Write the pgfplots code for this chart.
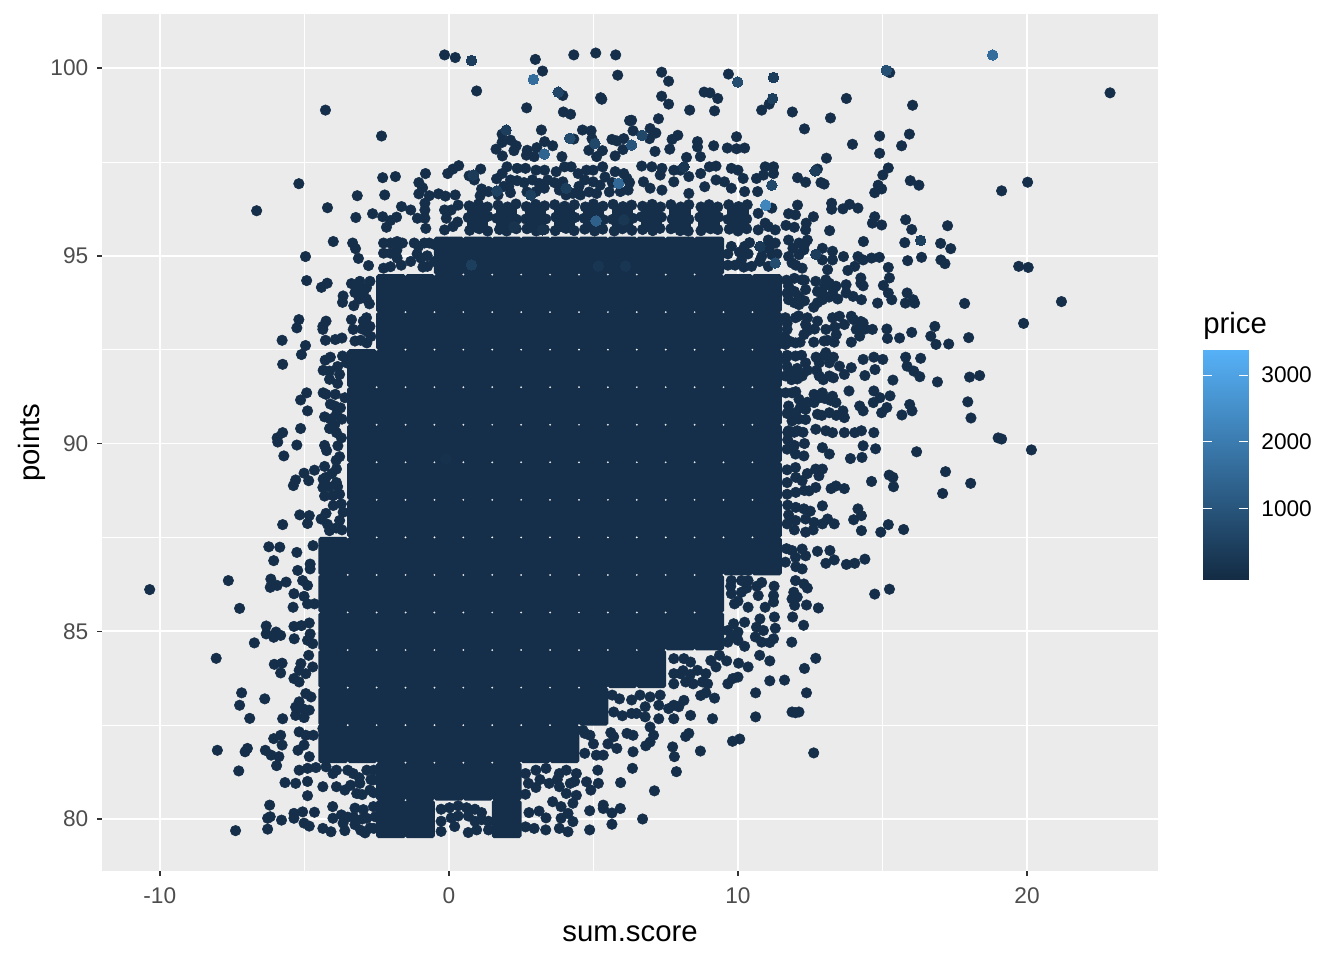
\documentclass[border=0pt]{standalone}
\usepackage{fontspec}
\setmainfont{Liberation Sans}
\usepackage{pgfplots}
\pgfplotsset{compat=1.18}
\definecolor{pt}{RGB}{21,46,73}
\definecolor{panel}{RGB}{235,235,235}
\definecolor{tk}{RGB}{51,51,51}
\definecolor{tl}{RGB}{77,77,77}
\pgfplotsset{colormap={gg}{rgb255=(19,43,67) rgb255=(86,177,247)}}
\pgfdeclareplotmark{cell}{%
 \pgfpathmoveto{\pgfqpoint{-9.6pt}{-14.4pt}}\pgfpathlineto{\pgfqpoint{9.6pt}{-14.4pt}}%
 \pgfpathlineto{\pgfqpoint{11.2pt}{-12.8pt}}\pgfpathlineto{\pgfqpoint{11.2pt}{12.8pt}}%
 \pgfpathlineto{\pgfqpoint{9.6pt}{14.4pt}}\pgfpathlineto{\pgfqpoint{-9.6pt}{14.4pt}}%
 \pgfpathlineto{\pgfqpoint{-11.2pt}{12.8pt}}\pgfpathlineto{\pgfqpoint{-11.2pt}{-12.8pt}}%
 \pgfpathclose\pgfusepathqfill}
\pgfdeclareplotmark{semicell}{%
 \pgfpathmoveto{\pgfqpoint{-8pt}{-10pt}}\pgfpathlineto{\pgfqpoint{8pt}{-10pt}}%
 \pgfpathlineto{\pgfqpoint{8pt}{10pt}}\pgfpathlineto{\pgfqpoint{-8pt}{10pt}}%
 \pgfpathclose\pgfusepathqfill}
\begin{document}
\begin{tikzpicture}
\path[use as bounding box] (0,0) rectangle (1008pt,720pt);
\begin{axis}[
 at={(76.5pt,66.75pt)},anchor=south west,scale only axis,width=792pt,height=642.75pt,
 xmin=-12.0,xmax=24.53,ymin=78.615,ymax=101.44,
 axis background/.style={fill=panel},
 axis line style={draw=none},
 xtick={-10,0,10,20},xticklabels={-10,0,10,20},
 ytick={80,85,90,95,100},yticklabels={80,85,90,95,100},
 minor xtick={-5,5,15},minor ytick={82.5,87.5,92.5,97.5},
 grid=both,
 major grid style={white,line width=1.3pt},
 minor grid style={white,line width=0.6pt},
 tick pos=left,tick align=outside,major tick length=3.75pt,minor tick length=0pt,
 major tick style={tk,line width=1.1pt},
 tick label style={font=\fontsize{17}{20}\selectfont,text=tl},
 xticklabel style={yshift=-5.5pt},
 yticklabel style={xshift=-3pt},
 xlabel={sum.score},ylabel={points},
 label style={font=\fontsize{22}{26}\selectfont,text=black},
 xlabel style={at={(axis description cs:0.5,-0.073)},anchor=center},
 ylabel style={at={(axis description cs:-0.066,0.5)},anchor=center},
 point meta min=4,point meta max=3300,colormap name=gg,
]
% dense core: one block per (sum.score, points) cell in which the points overlap completely
\addplot[only marks,mark=cell,color=pt,mark options={draw=none,fill=pt}] coordinates {
(0,95)(1,95)(2,95)(3,95)(4,95)(5,95)(6,95)(7,95)(8,95)(9,95)
(-2,94)(-1,94)(0,94)(1,94)(2,94)(3,94)(4,94)(5,94)(6,94)(7,94)(8,94)(9,94)(10,94)(11,94)
(-2,93)(-1,93)(0,93)(1,93)(2,93)(3,93)(4,93)(5,93)(6,93)(7,93)(8,93)(9,93)(10,93)(11,93)
(-3,92)(-2,92)(-1,92)(0,92)(1,92)(2,92)(3,92)(4,92)(5,92)(6,92)(7,92)(8,92)(9,92)(10,92)(11,92)
(-3,91)(-2,91)(-1,91)(0,91)(1,91)(2,91)(3,91)(4,91)(5,91)(6,91)(7,91)(8,91)(9,91)(10,91)(11,91)
(-3,90)(-2,90)(-1,90)(0,90)(1,90)(2,90)(3,90)(4,90)(5,90)(6,90)(7,90)(8,90)(9,90)(10,90)(11,90)
(-3,89)(-2,89)(-1,89)(0,89)(1,89)(2,89)(3,89)(4,89)(5,89)(6,89)(7,89)(8,89)(9,89)(10,89)(11,89)
(-3,88)(-2,88)(-1,88)(0,88)(1,88)(2,88)(3,88)(4,88)(5,88)(6,88)(7,88)(8,88)(9,88)(10,88)(11,88)
(-4,87)(-3,87)(-2,87)(-1,87)(0,87)(1,87)(2,87)(3,87)(4,87)(5,87)(6,87)(7,87)(8,87)(9,87)(10,87)(11,87)
(-4,86)(-3,86)(-2,86)(-1,86)(0,86)(1,86)(2,86)(3,86)(4,86)(5,86)(6,86)(7,86)(8,86)(9,86)
(-4,85)(-3,85)(-2,85)(-1,85)(0,85)(1,85)(2,85)(3,85)(4,85)(5,85)(6,85)(7,85)(8,85)(9,85)
(-4,84)(-3,84)(-2,84)(-1,84)(0,84)(1,84)(2,84)(3,84)(4,84)(5,84)(6,84)(7,84)
(-4,83)(-3,83)(-2,83)(-1,83)(0,83)(1,83)(2,83)(3,83)(4,83)(5,83)
(-4,82)(-3,82)(-2,82)(-1,82)(0,82)(1,82)(2,82)(3,82)(4,82)
(-2,81)(-1,81)(0,81)(1,81)(2,81)
(-2,80)(-1,80)(2,80)
};
\addplot[only marks,mark=semicell,color=pt,mark options={draw=none,fill=pt}] coordinates {
(1,96)(2,96)(3,96)(4,96)(5,96)(6,96)(7,96)(8,96)(9,96)(10,96)
};
% individual dark points
\addplot[only marks,mark=*,mark size=3.95pt,color=pt,mark options={draw=none,fill=pt}] coordinates {
(-0.15,100.35)(0.22,100.28)(2.99,100.23)(3.24,99.92)(4.32,100.35)(5.08,100.4)(5.77,100.35)(5.84,99.81)(0.96,99.39)(-4.27,98.88)(-2.33,98.19)(2.69,98.94)(3.94,99.27)(5.25,99.21)(5.29,99.17)(3.96,98.83)(4.21,98.77)(6.25,98.6)(3.2,98.35)(1.84,98.24)(2.13,98.08)(1.84,98.02)(2.33,97.93)(1.63,97.84)(2.25,97.8)(1.85,97.66)(3.31,98.04)(3.59,97.93)(3.04,97.88)(2.71,97.81)(2.68,97.68)(2.95,97.64)(3.91,97.64)(4.62,98.35)(4.92,98.33)(4.32,98.11)(4.95,98.12)(4.84,97.81)(5.31,97.8)(5.11,97.64)(5.64,98.1)(5.81,98.06)(6.05,98.12)(5.75,97.66)(6.02,97.83)
(0.34,97.4)(0.14,97.31)(-0.04,97.19)(1.1,97.31)(0.7,97.13)(0.88,97.02)(-0.81,97.19)(-2.29,97.08)(-1.85,97.11)(-3.17,96.6)(-2.22,96.62)(-1.04,96.95)(-0.91,96.81)(-1.04,96.65)(-0.68,96.6)(-0.36,96.65)(-0.12,96.59)(0.22,96.62)(1.13,96.78)(1.08,96.6)(1.37,96.71)
(1.84,97.19)(2.01,97.37)(2.36,97.33)(2.65,97.33)(3.01,97.28)(3.31,97.28)(3.71,97.24)(4,97.37)(4.23,97.37)(4.47,97.19)(4.76,97.28)(4.99,97.28)(5.32,97.37)(5.75,97.24)(6.05,97.19)(2.13,97.02)(2.36,97)(2.07,96.84)(2.13,96.68)(2.89,97.02)(3.12,96.93)(3.42,97.02)(3.3,96.8)(3.01,96.71)(3.82,96.75)(4.29,96.66)(3.94,96.97)(4.7,97.02)(4.99,96.97)(5.23,96.88)(5.11,96.66)(5.93,96.71)(6.16,97.06)
(1.65,97.05)(1.9,96.85)(1.7,96.62)(2.6,96.95)(2.7,96.7)(3.65,96.95)(4.05,96.62)(4.5,96.85)(4.55,96.62)(4.85,96.7)(5.4,97.1)(5.55,96.7)(5.65,96.95)(6.2,96.75)(6.25,96.95)
(-5.19,96.92)(-6.65,96.2)(-4.2,96.28)(-3.22,96.02)(-2.64,96.12)(-1.64,96.31)(-1.81,96.03)(-2.02,95.94)(-2.29,96.04)(-2.16,95.76)(-1.32,96.22)(-1.09,96)(-0.83,96.4)(-0.83,96.22)(-0.83,96)(-0.8,95.73)(-0.15,96.22)(0.08,96.22)(-0.09,96)(-0.15,95.69)(0.14,95.78)(0.32,96.35)(0.3,95.9)
(0.7,96.33)(1.02,96.38)(1.33,96.3)(0.67,96.02)(1.35,96.05)(0.72,95.68)(1.05,95.72)(1.34,95.66)
(1.7,96.35)(2.03,96.3)(2.32,96.38)(1.66,96.0)(2.34,95.97)(1.75,95.7)(2.0,95.66)(2.33,95.72)
(2.68,96.31)(3.0,96.37)(3.31,96.33)(2.66,95.98)(3.35,95.98)(2.7,95.72)(3.02,95.66)(3.3,95.7)
(3.66,96.36)(4.0,96.32)(4.34,96.36)(3.7,96.03)(4.36,96.02)(3.68,95.67)(4.05,95.73)(4.33,95.67)
(4.72,96.3)(5.0,96.38)(5.33,96.32)(4.68,96.0)(5.35,95.96)(4.7,95.71)(5.04,95.66)(5.32,95.71)
(5.68,96.37)(6.02,96.31)(6.32,96.35)(5.66,95.97)(6.36,96.0)(5.72,95.66)(6.0,95.72)(6.33,95.68)
(6.7,96.32)(7.03,96.37)(7.32,96.3)(6.66,96.04)(7.35,96.03)(6.7,95.7)(7.05,95.67)(7.3,95.73)
(7.68,96.36)(8.02,96.3)(8.3,96.36)(7.72,95.98)(8.3,95.97)(7.68,95.72)(8.0,95.67)(8.28,95.66)
(8.72,96.3)(9.0,96.36)(9.3,96.3)(8.68,96.03)(9.33,96.03)(8.72,95.67)(9.05,95.72)(9.3,95.7)
(9.68,96.36)(10.02,96.31)(10.32,96.36)(9.66,95.97)(10.3,95.98)(9.7,95.71)(10.0,95.66)(10.3,95.72)
(-4,95.38)(-3.33,95.34)(-3.23,95.19)(-4.96,94.98)(-3.13,94.93)(-2.78,94.74)(-4.92,94.34)(-4.21,94.27)(-4.41,94.16)
(-2.26,95.34)(-2.02,95.34)(-1.79,95.38)(-1.61,95.34)(-2.26,95.07)(-2.02,95.07)(-1.79,94.94)(-2.26,94.67)(-2.02,94.71)(-1.2,95.34)(-0.85,95.34)(-0.68,95.34)(-1.32,94.85)(-0.97,94.94)(-0.74,94.72)(-0.21,94.63)(-0.27,95.16)
(-1.1,95.05)(-0.75,95.0)(-0.9,94.7)(-0.5,94.85)(-0.5,95.3)(-1.05,95.25)(-1.8,95.15)(-1.65,94.75)
(-3.37,94.26)(-3.08,94.32)(-2.73,94.32)(-3.25,94.02)(-2.96,94.02)(-3.66,93.93)(-3.68,93.76)(-3.29,93.67)(-2.75,93.72)(-3.1,94.2)(-2.85,94.15)(-3.1,93.85)(-2.85,93.85)
(-5.19,93.3)(-5.26,93.08)(-4.25,93.26)(-4.36,93.12)(-4.36,93.04)(-5.77,92.75)(-4.96,92.61)(-5.1,92.37)(-4.27,92.75)(-3.93,92.77)(-3.7,92.81)(-3.37,93.3)(-3.31,93.04)(-2.96,93.26)(-2.73,93.12)(-2.84,92.99)(-3.25,92.73)(-2.84,92.68)(-3.0,93.05)(-2.7,92.85)(-3.05,92.75)(-2.85,93.35)
(-5.75,92.11)(-3.68,92.33)(-3.54,92.15)(-4.28,92.22)(-4.13,91.93)(-4.13,91.71)(-3.78,91.84)(-4.92,91.35)(-5.13,91.16)(-4.25,91.31)(-3.93,91.31)(-3.6,91.22)(-4.89,90.87)(-3.95,91)(-3.89,90.78)(-4.3,90.71)(-5.13,90.4)(-5.75,90.29)(-5.94,90.15)(-4.13,90.4)(-3.89,90.29)(-3.72,90.15)
(-3.85,92.05)(-4.1,92.3)(-4.35,91.95)(-3.85,91.6)(-4.35,91.35)(-4.1,91.05)(-3.75,90.95)(-3.7,90.65)(-4.1,90.65)(-3.95,90.5)
(-5.92,90.04)(-5.26,89.96)(-5.71,89.67)(-4.23,89.81)(-3.84,89.94)(-3.78,89.65)(-4.3,89.39)(-4.65,89.29)(-5.01,89.21)(-5.3,89.03)(-5.38,88.88)(-4.85,89.01)(-3.89,89.32)(-4.25,89.1)(-4.36,88.83)(-4.01,88.61)(-3.89,88.96)(-3.78,88.65)(-3.72,88.39)
(-4.3,89.95)(-3.9,89.55)(-4.05,89.2)(-4.35,89.05)(-3.85,88.85)(-4.15,88.85)(-4.3,88.6)(-4.0,88.35)(-4.2,87.85)(-3.9,87.75)(-3.7,87.7)
(-5.16,88.1)(-4.83,88.08)(-4.89,87.87)(-5.75,87.84)(-4.25,88.14)(-4.42,87.99)(-4.13,87.68)(-3.78,87.95)(-3.66,88.17)
(-6.23,87.25)(-5.85,87.24)(-6.06,86.88)(-5.26,87.1)(-4.7,87.28)(-5.23,86.62)(-4.8,86.79)(-4.8,86.66)(-7.63,86.35)(-10.35,86.11)(-7.24,85.61)(-6.16,86.39)(-6.18,86.17)(-5.94,86.22)(-5.63,86.31)(-5.06,86.35)(-4.89,86.22)(-5.36,86)(-5.39,85.64)(-5.01,85.93)(-4.89,85.73)(-4.65,85.73)
(-6.32,85.14)(-6.32,84.93)(-5.98,84.98)(-6.06,84.84)(-5.82,84.89)(-5.36,85.13)(-5.1,85.15)(-4.83,85.22)(-5.35,84.8)(-4.8,84.93)(-4.89,84.76)(-4.71,84.67)(-6.73,84.69)(-8.05,84.28)(-4.85,84.36)(-6.04,84.12)(-5.77,84.15)(-5.82,83.89)(-5.12,84.14)(-5.18,83.96)(-4.71,84.05)(-4.95,83.87)(-5.36,83.74)(-5.18,83.65)
(-7.17,83.36)(-6.37,83.2)(-7.24,83.03)(-6.89,82.68)(-5.75,82.67)(-4.95,83.34)(-4.77,83.25)(-5.18,83.12)(-5.3,82.98)(-5.06,82.94)(-4.83,82.9)(-5.3,82.76)(-5.01,82.7)
(-5.18,82.32)(-4.95,82.23)(-4.69,82.23)(-4.36,82.41)(-6.06,82.14)(-5.82,82.23)(-5.77,81.97)(-6.35,81.83)(-6.15,81.7)(-5.88,81.66)(-5.96,81.42)(-8.01,81.83)(-7.05,81.79)(-6.97,81.88)(-5.22,81.83)(-5.01,81.97)(-4.83,81.66)(-7.27,81.28)
(-5.18,81.3)(-4.89,81.35)(-4.6,81.37)(-5.67,80.97)(-5.3,80.95)(-4.89,81)(-4.89,80.62)(-4.36,80.86)(-4.25,81.39)(-4.01,81.21)(-3.89,80.86)(-3.6,80.77)(-3.19,80.68)(-3.89,81.3)(-3.31,81.21)(-2.84,81.3)(-2.61,81.04)(-3.08,80.95)(-2.73,80.77)
(-3.5,81.3)(-3.1,81.1)(-2.6,81.3)(-3.4,80.9)(-2.7,81.05)(-3.0,80.65)(-2.6,80.7)(-3.5,80.05)(-3.3,80.05)(-3.0,80.0)(-3.05,79.7)(-2.6,79.75)
(-6.2,80.37)(-6.18,80.06)(-6.27,80.02)(-6.27,79.73)(-5.79,79.97)(-7.38,79.69)(-5.36,80.15)(-5.06,80.19)(-5.36,80.02)(-4.65,80.18)(-5.01,79.89)(-4.83,79.81)(-4.02,80.33)(-4.36,79.75)(-4.08,79.66)(-3.6,79.69)(-4.01,80.02)(-3.72,80.11)(-3.66,79.89)(-3.25,80.29)(-2.96,80.25)(-3.25,79.85)(-2.84,80.02)(-2.73,79.76)(-2.9,79.63)(-2.61,80.33)(-2.55,80.06)
(-0.27,80.26)(0.02,80.3)(0.32,80.35)(0.61,80.3)(0.9,80.26)(1.13,80.17)(0.08,80.03)(-0.27,79.94)(0.32,80.08)(0.67,80.08)(0.2,79.8)(-0.27,79.67)(0.67,79.64)(0.96,79.71)(1.37,79.71)(1.13,79.98)(1.37,79.94)(0.9,79.94)
(2.77,80.17)(3.12,80.21)(3.36,80.03)(2.95,79.75)(2.65,79.79)(3.35,79.71)(3.59,80.46)(3.88,80.33)(4.12,80.15)(3.88,80.02)(4.29,80.42)(4.29,79.93)(3.82,79.75)(4.12,79.66)(4.87,80.22)(4.87,79.71)(5.34,80.37)(5.34,80.28)(5.64,80.16)(5.93,80.28)(5.64,79.86)
(2.65,81.21)(3.01,81.3)(3.36,81.35)(2.65,80.66)(3.01,80.84)(3.47,80.95)(3.82,81.21)(4.06,81.3)(4.41,81.21)(3.82,80.86)(4.06,80.68)(4.41,80.63)(5.15,81.3)(4.76,80.99)(4.91,80.77)(5.17,80.95)(5.94,80.97)(2.75,80.95)(3.15,81.05)(3.75,81.05)(4.2,80.95)(4.35,81.0)
(4.7,82.28)(4.88,82.23)(5.7,82.19)(5.81,81.88)(5.34,81.7)(6.16,82.28)(4.64,82.36)(5.0,82.0)(4.7,81.75)(5.1,81.7)(5.5,82.0)(5.6,82.3)
(6.37,82.23)(6.96,82.45)(7.08,82.23)(6.96,82.05)(6.81,81.95)(6.37,81.79)(6.35,81.35)(8.3,82.28)(8.19,82.2)(7.74,81.92)(7.8,81.66)(8.7,81.81)(7.87,81.26)(7.11,80.75)(6.7,80)(9.81,82.07)(10.06,82.13)(12.62,81.76)
(5.65,83.3)(5.9,83.2)(5.7,82.85)(6.0,82.75)
(6.61,83.3)(6.96,83.25)(7.31,83.3)(6.79,82.99)(7.26,83.03)(6.49,82.81)(6.79,82.72)(7.26,82.67)(6.32,83.17)(6.32,82.81)(8.13,83.16)(7.78,83.03)(7.95,82.99)(7.6,82.94)(7.78,82.67)(8.36,82.76)(8.71,83.29)(8.89,83.36)(9.19,83.22)(9.12,82.67)(10.61,83.36)(10.61,82.72)(11.87,82.85)(11.99,82.83)(12.11,82.85)(12.37,83.36)
(7.78,84.27)(8.13,84.27)(8.36,84.18)(7.78,83.87)(8.01,83.87)(7.78,83.6)(8.19,83.65)(8.6,83.96)(8.89,83.87)(8.95,83.6)(8.77,83.65)(9.06,84.22)(9.36,84.36)(9.61,84.21)(9.24,84.05)(10.02,84.15)(10.35,84.05)(9.65,83.6)(9.82,83.74)(10,83.78)(10.75,84.36)(11.1,84.21)(11.1,83.68)(11.61,83.7)(12.3,84.01)(12.69,84.28)(8.1,83.95)(8.35,83.85)(8.45,83.6)
(9.65,85.02)(10,84.98)(9.65,84.71)(10,84.76)(10.23,84.6)(9.77,84.84)(10.23,85.24)(10.76,85.33)(10.64,85.11)(10.88,85.02)(10.82,84.71)(11.23,84.8)(11.29,85.08)(11.26,85.38)(11.89,85.38)(12.27,85.16)(11.86,84.71)(10.6,84.85)(11.1,84.7)(9.85,85.2)
(9.77,86.35)(10.12,86.35)(10.35,86.35)(9.77,86)(10.12,86.04)(9.88,85.73)(10.35,85.64)(10.7,85.95)(10.82,86.3)(10.94,85.64)(11.23,85.95)(11.23,85.78)(11.99,86.35)(12.28,86.26)(12.4,86.15)(11.93,86.04)(11.87,85.86)(12.05,85.91)(11.96,85.69)(12.37,85.7)(12.78,85.62)(14.73,85.99)(15.24,86.12)(9.75,86.2)(10.3,86.15)(10.0,85.8)(10.65,86.2)(11.25,86.2)
(11.87,87.15)(12.22,87.19)(11.64,86.84)(11.99,86.97)(12.34,87.01)(12.22,86.66)(12.75,87.13)(13.18,87.15)(13.04,86.81)(13.33,86.9)(13.75,86.78)(14.04,86.81)(14.39,86.92)(11.68,87.2)(12.0,86.72)
(11.7,87.86)(11.99,87.95)(12.28,88.26)(12.34,87.99)(12.63,87.9)(12.34,87.64)(12.92,88.34)(12.92,87.86)(13.1,87.99)(13.33,87.86)(11.72,88.36)(14.15,88.26)(14.27,88.08)(14,87.97)(14.27,87.68)(14.94,87.64)(15.2,87.84)(15.73,87.71)(11.75,88.1)(12.0,88.3)(12.5,88.2)(11.95,87.7)(12.6,87.7)
(11.7,88.96)(11.99,89.36)(12.22,89.01)(12.46,88.74)(11.7,88.65)(12.69,88.83)(12.92,89.32)(12.69,89.32)(12.8,89.14)(13.22,88.8)(13.39,88.87)(13.68,88.8)(14.62,88.99)(15.23,89.16)(15.36,89.1)(15.38,88.85)(17.18,89.25)(18.05,88.94)(17.08,88.67)(11.7,89.3)(12.0,89.1)(12.4,89.2)(12.0,88.7)(12.3,88.75)
(13.89,89.6)(14.29,89.63)(14.76,89.86)(16.18,89.78)(20.15,89.83)(12.92,89.89)(13.16,89.72)(14.33,89.94)(11.7,89.85)(11.99,89.72)(12.28,89.67)(19.12,90.12)(19.0,90.15)(11.72,90.1)(11.95,90.3)(12.25,90.3)(12.3,90.0)(11.95,89.95)(11.72,90.3)
(22.87,99.34)(15.25,99.88)(7.36,99.89)(7.6,99.65)(9.67,99.84)(7.36,99.25)(7.6,99.04)(8.83,99.36)(9.03,99.34)(9.3,99.19)(8.33,98.88)(9.19,98.86)(10.82,98.88)(11.08,99.04)(11.88,98.83)(13.75,99.19)(16.04,99.01)(13.2,98.67)(12.3,98.38)(7.25,98.65)(6.32,98.61)(6.37,98.33)(6.96,98.39)(7.16,98.27)(6.94,98.12)(7.92,98.21)(7.72,98.1)(8.6,98.04)(8.6,97.9)(7.13,97.78)(7.64,97.84)(9.16,97.93)(9.95,98.17)(9.63,97.87)(9.95,97.85)(10.23,97.87)(8.22,97.62)(8.7,97.64)(15.93,98.24)(14.9,98.19)(15.66,97.93)(13.96,97.97)(14.9,97.73)(13.06,97.6)(15.2,97.34)(15.01,97.15)(12.75,97.31)(14.85,96.88)(14.97,96.78)(14.73,96.68)(12.06,97.08)(12.34,96.96)(12.87,96.95)(12.98,96.91)(15.96,97)(16.26,96.88)(19.12,96.73)(20.02,96.96)
(6.67,97.39)(7.02,97.37)(7.37,97.33)(7.78,97.28)(7.31,97.15)(6.73,96.97)(6.96,96.8)(7.37,96.75)(7.78,96.97)(8.3,97.11)(8.3,96.66)(8.01,97.28)(8.71,97.19)(9.01,97.37)(9.24,97.39)(9.77,97.33)(10,97.28)(10.18,97.06)(9.24,97.02)(9.53,96.97)(9.77,96.8)(8.85,96.84)(10.23,96.71)(10.64,97.06)(10.94,97.37)(11.23,97.37)(11.23,97.19)(10.88,97.15)(10.68,96.71)
(11.17,96.27)(13.24,96.4)(13.24,96.24)(13.63,96.25)(13.86,96.37)(14.15,96.27)(12.06,96.35)(11.75,96.12)(11.99,96.09)(12.61,96.04)(12.36,95.87)(12.34,95.69)(11.66,95.81)(11.95,95.76)(13.17,95.67)(14.73,96.04)(14.65,95.87)(14.97,95.82)(15.8,95.96)(16.01,95.7)(17.25,95.8)(14.34,95.38)(15.77,95.35)(17.01,95.33)(17.36,95.19)(19.88,93.2)(17.98,92.82)(21.19,93.78)(17.84,93.73)(19.71,94.72)(20.04,94.69)
(10.7,96.13)(10.94,95.87)(11.29,95.69)(11.05,95.78)(10.7,95.69)
(15.87,94.87)(16.35,94.96)(17.02,94.89)(17.16,94.79)(15.2,94.69)(15.24,94.41)(15.03,94.21)(15.2,94.01)(15.32,93.83)(14.83,93.74)(15.85,94.01)(15.79,93.74)(16.11,93.74)(16.06,93.83)(14.25,94.41)(14.33,94.2)(14.25,94.27)(13.74,94.01)(13.98,93.92)(14.27,93.83)(13.8,94.61)
(14.15,94.98)(14.33,94.89)(14.62,94.94)(14.89,94.96)(14.04,94.72)(13.65,94.98)(13.27,95.12)(12.92,95.2)(12.92,94.89)(13.27,94.89)(13.1,94.63)(11.75,95.42)(12.11,95.34)(12.4,95.42)(12.28,95.16)(11.75,94.98)(12.11,95.03)(12.22,94.67)(11.87,94.81)(11.05,95.42)(11.29,95.34)(10.82,94.98)(11.17,95.03)(11.05,94.72)(9.77,95.25)(10.23,95.25)(10.12,94.89)(10.47,94.72)
(11.9,95.2)(12.3,95.3)(12.0,94.75)(10.95,95.2)(10.75,94.85)(11.35,95.05)(11.1,95.25)(9.65,95.05)(10.05,95.1)(9.9,94.75)(10.35,95.05)(9.65,94.75)(10.2,94.7)(10.4,95.35)
(11.75,94.19)(12.22,94.36)(12.11,93.92)(11.75,93.83)(12.34,94.1)(12.11,93.7)(12.62,93.63)(12.69,94.32)(13.16,94.27)(13.39,94.19)(13.74,94.23)(12.92,93.83)(13.27,93.96)(13.04,94.36)(12.92,94.01)
(11.68,94.35)(11.95,94.4)(12.3,94.35)(11.7,94.0)(11.95,94.05)(12.3,93.8)(11.95,93.75)(12.75,94.05)(13.0,94.2)(13.3,94.1)(13.15,93.9)(12.75,93.75)(13.45,93.85)
(11.64,93.35)(11.99,93.35)(12.34,93.17)(12.28,92.9)(11.99,92.68)(11.7,93.04)(11.64,92.64)(12.75,93.26)(13.04,93.04)(12.62,92.7)(12.98,92.73)(13.33,92.7)(13.27,93.35)(13.68,93.17)(13.51,93.39)(13.92,93.39)(14.33,93.21)(14.09,93.04)(14.21,92.86)(13.92,92.7)(14.65,93.04)(15.15,93.05)(15.17,92.8)(15.59,92.81)(16.01,92.96)(16.67,92.86)(16.81,93.12)(16.85,92.64)(17.29,92.65)
(11.7,93.2)(12.1,93.4)(12.4,93.35)(12.4,93.0)(12.15,92.7)(11.8,92.72)(11.62,92.85)(12.65,93.05)(13.35,93.1)(13.4,92.9)(13.1,92.75)(14.0,93.3)(14.25,93.25)(14.4,93.05)(14.2,93.05)
(11.64,92.24)(11.99,92.33)(12.34,92.15)(11.87,91.88)(12.22,91.8)(11.64,91.8)(13.04,92.42)(12.81,92.15)(13.16,92.15)(12.81,91.8)(13.16,91.8)(13.51,92.06)(13.92,92.02)(13.68,91.84)(14.33,92.24)(14.7,92.3)(15.01,92.24)(14.74,91.97)(14.39,91.81)(15.36,91.69)(15.8,92.3)(16.32,92.27)(15.85,92.06)(16.08,91.93)(16.29,91.78)(16.9,91.64)(18.01,91.77)(18.36,91.81)
(11.7,92.35)(12.2,92.35)(12.4,91.95)(12.05,92.0)(11.7,92.05)(12.05,91.72)(11.85,91.7)(12.7,92.3)(12.72,91.95)(12.95,91.7)(13.3,91.75)(13.3,92.3)(13.0,92.35)
(11.87,91.35)(12.11,91.18)(12.34,90.91)(11.75,91)(11.99,90.82)(11.87,90.6)(12.34,90.64)(12.63,91.31)(12.92,91.35)(13.27,91.26)(12.63,91.09)(13.39,91.09)(12.75,90.78)(13.16,90.82)(13.63,90.87)(13.68,90.69)(13.84,91.4)(14.21,91)(14.7,91.4)(14.91,91.22)(14.68,91.09)(15.26,91.27)(15.15,90.96)(14.97,90.82)(14.33,90.87)(15.94,91.04)(16.02,90.87)(15.67,90.76)(17.95,91.11)(18.06,90.68)
(11.65,91.35)(12.0,91.38)(12.15,90.95)(11.7,90.8)(12.1,90.65)(12.4,91.1)(12.75,91.2)(13.0,91.2)(13.2,91.15)(12.9,90.75)(13.4,90.75)
(11.75,90.34)(12.05,90.34)(12.69,90.38)(13.04,90.34)(13.27,90.29)(13.68,90.29)(14.04,90.29)(14.27,90.34)(14.7,90.29)
};
% points with a visibly higher price
\addplot[scatter,only marks,mark=*,mark size=3.95pt,scatter src=explicit,
 scatter/use mapped color={draw=mapped color,fill=mapped color,line width=0pt}] table[meta=price] {
x y price
0.78 100.2 450
2.92 99.7 1600
3.78 99.36 650
1.98 98.35 450
3.3 97.71 1400
4.18 98.13 800
5.05 97.99 700
0.84 97.15 400
1.66 96.73 550
2.83 96.62 500
4.06 96.8 500
5.87 96.93 1500
5.09 95.93 1300
3.24 95.69 200
6.05 95.96 300
2.25 95.78 200
0.78 94.76 500
6.11 94.73 250
5.17 94.73 250
-0.1 89.6 160
6.68 98.21 700
6.32 97.95 1000
15.13 99.94 900
18.81 100.35 1600
9.99 99.63 800
11.23 99.75 450
11.2 99.19 500
8.13 97.37 300
11.17 96.88 700
10.96 96.35 2200
12.67 97.26 450
16.32 95.41 500
12.69 95.04 450
10.76 95.25 350
11.29 94.81 800
};
\end{axis}
\begin{axis}[
 at={(902.25pt,285pt)},anchor=south west,scale only axis,width=33.75pt,height=172.5pt,
 xmin=0,xmax=1,ymin=-78,ymax=3376,
 axis line style={draw=none},
 xtick=\empty,ytick={1000,2000,3000},
 yticklabels={1000,2000,3000},
 ytick pos=both,yticklabel pos=right,tick align=inside,major tick length=6.75pt,
 major tick style={white,line width=0.6pt},
 axis on top,
 tick label style={font=\fontsize{17}{20}\selectfont,text=black},
 yticklabel style={xshift=6.5pt},
 colormap name=gg,
]
\addplot[patch,patch type=rectangle,shader=interp,point meta=y] coordinates {(0,-78)(1,-78)(1,3376)(0,3376)};
\end{axis}
\node[anchor=west,inner sep=0pt,font=\fontsize{22}{26}\selectfont] at (902.25pt,475.5pt) {price};
\end{tikzpicture}
\end{document}
